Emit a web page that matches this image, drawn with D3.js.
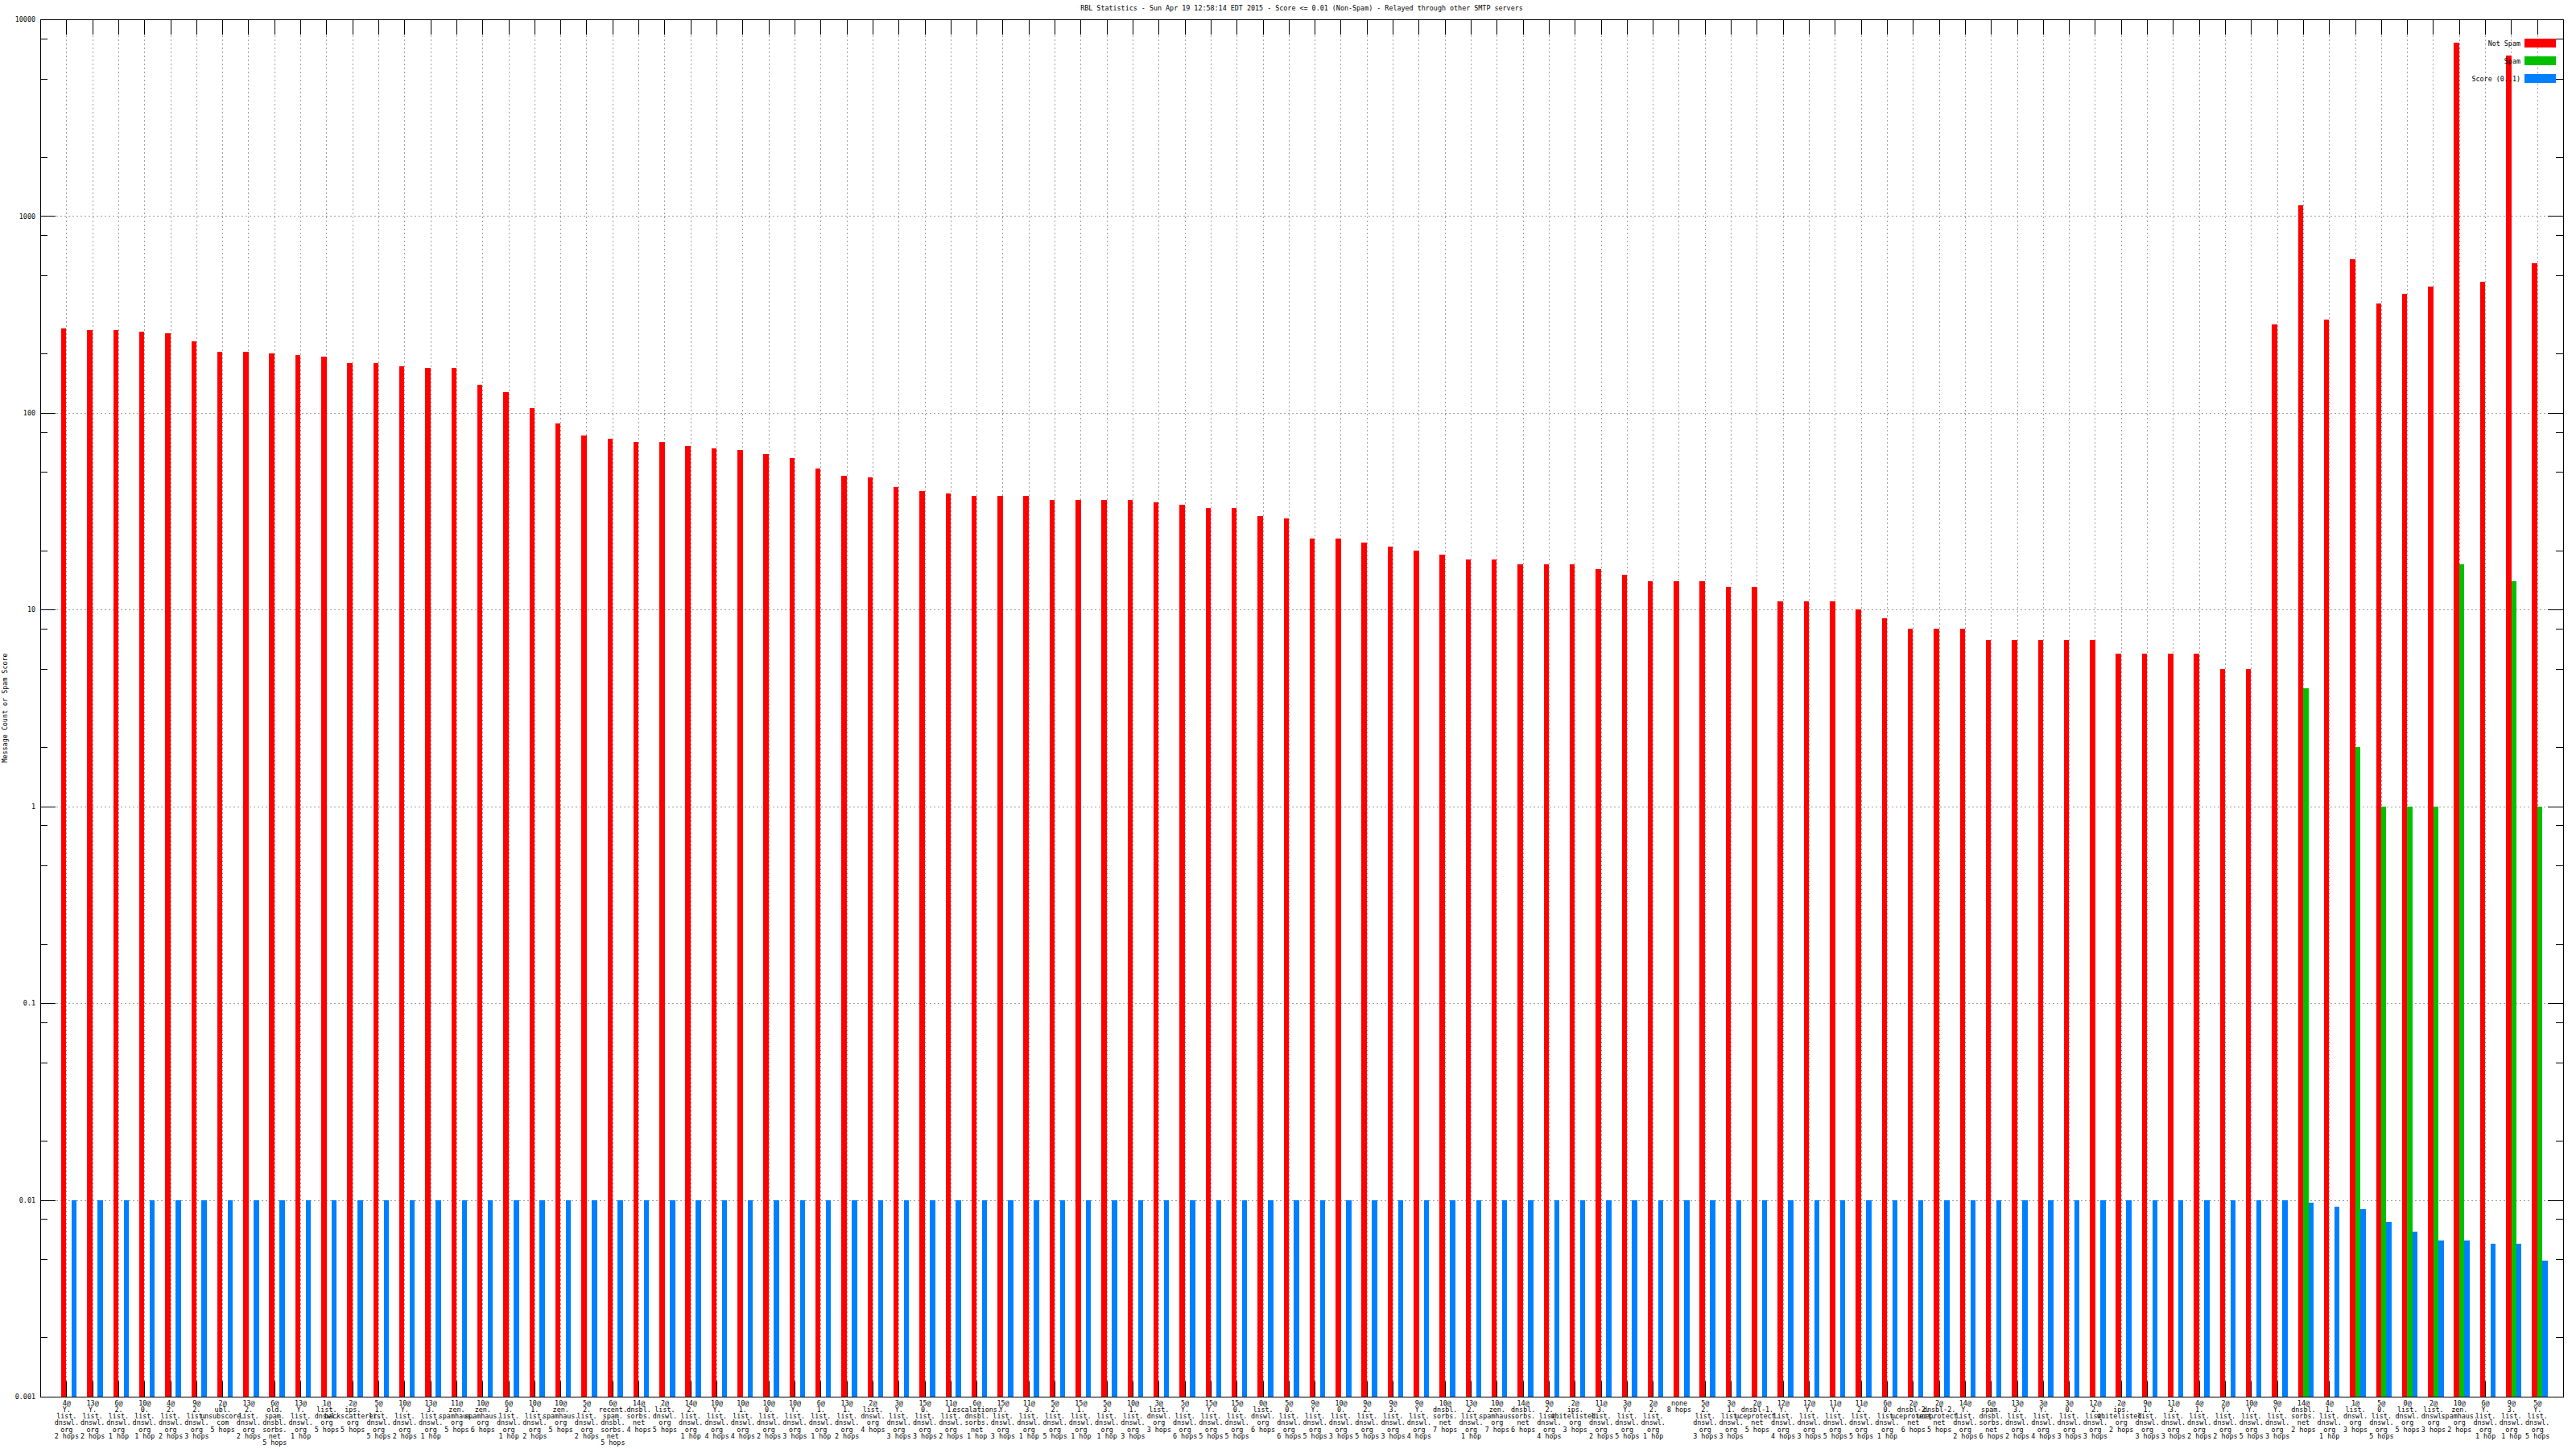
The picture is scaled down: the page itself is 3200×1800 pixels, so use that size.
<!DOCTYPE html>
<html><head><meta charset="utf-8">
<script src="https://cdn.jsdelivr.net/npm/d3@7"></script>
<style>body{margin:0;background:#fff}</style>
</head><body><svg id="c" width="3200" height="1800"></svg>
<script>
const categories = [
"4@Y.list.dnswl.org 2 hops","13@Y.list.dnswl.org 2 hops","6@2.list.dnswl.org 1 hop","10@0.list.dnswl.org 1 hop",
"4@2.list.dnswl.org 2 hops","9@2.list.dnswl.org 3 hops","2@ubl.unsubscore.com 5 hops","13@2.list.dnswl.org 2 hops",
"6@old.spam.dnsbl.sorbs.net 5 hops","13@Y.list.dnswl.org 1 hop","1@list.dnswl.org 5 hops","2@ips.backscatterer.org 5 hops",
"5@1.list.dnswl.org 5 hops","10@Y.list.dnswl.org 2 hops","13@3.list.dnswl.org 1 hop","11@zen.spamhaus.org 5 hops",
"10@zen.spamhaus.org 6 hops","6@3.list.dnswl.org 1 hop","10@1.list.dnswl.org 2 hops","10@zen.spamhaus.org 5 hops",
"5@2.list.dnswl.org 2 hops","6@recent.spam.dnsbl.sorbs.net 5 hops","14@dnsbl.sorbs.net 4 hops","2@list.dnswl.org 5 hops",
"14@2.list.dnswl.org 1 hop","10@Y.list.dnswl.org 4 hops","10@1.list.dnswl.org 4 hops","10@0.list.dnswl.org 2 hops",
"10@Y.list.dnswl.org 3 hops","6@1.list.dnswl.org 1 hop","13@1.list.dnswl.org 2 hops","2@list.dnswl.org 4 hops",
"3@Y.list.dnswl.org 3 hops","15@0.list.dnswl.org 3 hops","11@1.list.dnswl.org 2 hops","6@escalations.dnsbl.sorbs.net 1 hop",
"15@Y.list.dnswl.org 3 hops","11@3.list.dnswl.org 1 hop","5@2.list.dnswl.org 5 hops","15@1.list.dnswl.org 1 hop",
"5@3.list.dnswl.org 1 hop","10@1.list.dnswl.org 3 hops","3@list.dnswl.org 3 hops","5@Y.list.dnswl.org 6 hops",
"15@Y.list.dnswl.org 5 hops","15@0.list.dnswl.org 5 hops","0@list.dnswl.org 6 hops","5@0.list.dnswl.org 6 hops",
"9@Y.list.dnswl.org 5 hops","10@0.list.dnswl.org 3 hops","9@2.list.dnswl.org 5 hops","9@3.list.dnswl.org 3 hops",
"9@Y.list.dnswl.org 4 hops","10@dnsbl.sorbs.net 7 hops","13@2.list.dnswl.org 1 hop","10@zen.spamhaus.org 7 hops",
"14@dnsbl.sorbs.net 6 hops","9@2.list.dnswl.org 4 hops","2@ips.whitelisted.org 3 hops","11@3.list.dnswl.org 2 hops",
"3@Y.list.dnswl.org 5 hops","2@2.list.dnswl.org 1 hop","none 8 hops","5@2.list.dnswl.org 3 hops",
"3@1.list.dnswl.org 3 hops","2@dnsbl-1.uceprotect.net 5 hops","12@Y.list.dnswl.org 4 hops","12@Y.list.dnswl.org 3 hops",
"11@Y.list.dnswl.org 5 hops","11@2.list.dnswl.org 5 hops","6@0.list.dnswl.org 1 hop","2@dnsbl-2.uceprotect.net 6 hops",
"2@dnsbl-2.uceprotect.net 5 hops","14@Y.list.dnswl.org 2 hops","6@spam.dnsbl.sorbs.net 6 hops","13@3.list.dnswl.org 2 hops",
"3@Y.list.dnswl.org 4 hops","3@0.list.dnswl.org 3 hops","12@2.list.dnswl.org 3 hops","2@ips.whitelisted.org 2 hops",
"9@1.list.dnswl.org 3 hops","11@3.list.dnswl.org 3 hops","4@1.list.dnswl.org 2 hops","2@Y.list.dnswl.org 2 hops",
"10@Y.list.dnswl.org 5 hops","9@Y.list.dnswl.org 3 hops","14@dnsbl.sorbs.net 2 hops","4@1.list.dnswl.org 1 hop",
"1@list.dnswl.org 3 hops","5@0.list.dnswl.org 5 hops","0@list.dnswl.org 5 hops","2@list.dnswl.org 3 hops",
"10@zen.spamhaus.org 2 hops","6@Y.list.dnswl.org 1 hop","9@3.list.dnswl.org 1 hop","5@Y.list.dnswl.org 5 hops"
];
const notSpam = [
268,263,263,258,253,230,205,205,201,197,193,179,179,172,169,169,
139,127,106,88,77,74,71,71,68,66,65,62,59,52,48,47,
42,40,39,38,38,38,36,36,36,36,35,34,33,33,30,29,
23,23,22,21,20,19,18,18,17,17,17,16,15,14,14,14,
13,13,11,11,11,10,9,8,8,8,7,7,7,7,7,6,
6,6,6,5,5,281,1135,298,604,360,403,438,7610,464,6545,575
];
const spam = [
0,0,0,0,0,0,0,0,0,0,0,0,0,0,0,0,
0,0,0,0,0,0,0,0,0,0,0,0,0,0,0,0,
0,0,0,0,0,0,0,0,0,0,0,0,0,0,0,0,
0,0,0,0,0,0,0,0,0,0,0,0,0,0,0,0,
0,0,0,0,0,0,0,0,0,0,0,0,0,0,0,0,
0,0,0,0,0,0,4,0,2,1,1,1,17,0,14,1
];
const score = [
0.01,0.01,0.01,0.01,0.01,0.01,0.01,0.01,0.01,0.01,0.01,0.01,0.01,0.01,0.01,0.01,
0.01,0.01,0.01,0.01,0.01,0.01,0.01,0.01,0.01,0.01,0.01,0.01,0.01,0.01,0.01,0.01,
0.01,0.01,0.01,0.01,0.01,0.01,0.01,0.01,0.01,0.01,0.01,0.01,0.01,0.01,0.01,0.01,
0.01,0.01,0.01,0.01,0.01,0.01,0.01,0.01,0.01,0.01,0.01,0.01,0.01,0.01,0.01,0.01,
0.01,0.01,0.01,0.01,0.01,0.01,0.01,0.01,0.01,0.01,0.01,0.01,0.01,0.01,0.01,0.01,
0.01,0.01,0.01,0.01,0.01,0.01,0.0097,0.0092,0.009,0.0077,0.0069,0.0062,0.0062,0.006,0.006,0.0049
];
const yMajorTicks = [0.001,0.01,0.1,1,10,100,1000,10000];
const yMajorLabels = ["0.001","0.01","0.1","1","10","100","1000","10000"];
const yMinorTicks = [0.002,0.005,0.008,0.02,0.05,0.08,0.2,0.5,0.8,2,5,8,20,50,80,200,500,800,2000,5000,8000];
const seriesNames = ["Not Spam","Spam","Score (0..1)"];
const seriesColors = ["#ff0000","#00c000","#0080ff"];
const chartTitle = "RBL Statistics - Sun Apr 19 12:58:14 EDT 2015 - Score <= 0.01 (Non-Spam) - Relayed through other SMTP servers";
const yTitle = "Message Count or Spam Score";

const W = 3200, H = 1800, L = 50, R = 3184, T = 24, B = 1735;
const FONT = "'DejaVu Sans Mono', 'Liberation Mono', monospace";
const FS = 8.4;
const svg = d3.select('#c');
svg.append('rect').attr('width', W).attr('height', H).attr('fill', '#fff');

const n = categories.length;
const idx = d3.range(n);
const x = d3.scaleLinear().domain([-1, n]).range([L, R]);
const y = d3.scaleLog().domain([0.001, 10000]).range([B, T]);

// grid
const grid = svg.append('g').attr('stroke', '#a0a0a0').attr('stroke-width', 1).attr('stroke-dasharray', '2,3').attr('shape-rendering', 'crispEdges');
grid.selectAll('line.v').data(idx).join('line').attr('class', 'v')
  .attr('x1', d => Math.round(x(d)) + 0.5).attr('x2', d => Math.round(x(d)) + 0.5)
  .attr('y1', T).attr('y2', B);
grid.selectAll('line.h').data(yMajorTicks.slice(1, -1)).join('line').attr('class', 'h')
  .attr('x1', L).attr('x2', R)
  .attr('y1', d => Math.round(y(d)) + 0.5).attr('y2', d => Math.round(y(d)) + 0.5);

function styleAxis(g) {
  g.select('.domain').remove();
  g.selectAll('.tick line').attr('stroke', '#000').attr('shape-rendering', 'crispEdges');
  g.selectAll('.tick text').attr('fill', '#000').attr('font-family', FONT).attr('font-size', FS);
}

// y axes
svg.append('g').attr('transform', `translate(${L},0)`)
  .call(d3.axisLeft(y).tickValues(yMajorTicks).tickFormat((d, i) => yMajorLabels[i]).tickSize(-19).tickPadding(6))
  .call(styleAxis);
svg.append('g').attr('transform', `translate(${L},0)`)
  .call(d3.axisLeft(y).tickValues(yMinorTicks).tickFormat('').tickSize(-9))
  .call(styleAxis);
svg.append('g').attr('transform', `translate(${R},0)`)
  .call(d3.axisRight(y).tickValues(yMajorTicks).tickFormat('').tickSize(-19))
  .call(styleAxis);
svg.append('g').attr('transform', `translate(${R},0)`)
  .call(d3.axisRight(y).tickValues(yMinorTicks).tickFormat('').tickSize(-9))
  .call(styleAxis);

// x axes
svg.append('g').attr('transform', `translate(0,${T})`)
  .call(d3.axisTop(x).tickValues(idx).tickFormat('').tickSize(-19))
  .call(styleAxis);
const xb = svg.append('g').attr('transform', `translate(0,${B})`)
  .call(d3.axisBottom(x).tickValues(idx).tickFormat(d => categories[d]).tickSize(-19).tickPadding(5))
  .call(styleAxis);
function splitLabel(s) {
  return s.replace(/@/g, '@\n').replace(/\./g, '.\n').replace(/ (\d+ hops?)$/, '\n$1').split('\n');
}
xb.selectAll('.tick text').each(function (d) {
  const t = d3.select(this);
  const lines = splitLabel(categories[d]);
  t.text(null);
  lines.forEach((ln, k) => {
    t.append('tspan').attr('x', 0).attr('dy', k === 0 ? '0.71em' : 8.17).text(ln);
  });
}).attr('dy', null);

// bars
const series = [notSpam, spam, score];
const bw = 0.2, off0 = -0.195;
series.forEach((vals, s) => {
  svg.append('g').attr('fill', seriesColors[s]).attr('shape-rendering', 'crispEdges')
    .selectAll('rect').data(idx.filter(i => vals[i] > 0)).join('rect')
    .attr('x', i => x(i + off0 + s * bw))
    .attr('width', i => x(i + off0 + (s + 1) * bw) - x(i + off0 + s * bw))
    .attr('y', i => y(vals[i]))
    .attr('height', i => B - y(vals[i]));
});

// border
svg.append('rect').attr('x', L + 0.5).attr('y', T + 0.5).attr('width', R - L).attr('height', B - T)
  .attr('fill', 'none').attr('stroke', '#000').attr('stroke-width', 1).attr('shape-rendering', 'crispEdges');

// legend
const lg = svg.append('g');
seriesNames.forEach((name, s) => {
  const yc = 53.5 + s * 22;
  lg.append('rect').attr('x', 3136).attr('y', yc - 5.5).attr('width', 39).attr('height', 11).attr('fill', seriesColors[s]);
  lg.append('text').attr('x', 3131).attr('y', yc + 3).attr('text-anchor', 'end')
    .attr('font-family', FONT).attr('font-size', FS).attr('fill', '#000').text(name);
});

// titles
svg.append('text').attr('x', (L + R) / 2).attr('y', 13).attr('text-anchor', 'middle')
  .attr('font-family', FONT).attr('font-size', FS).attr('fill', '#000').text(chartTitle);
svg.append('text').attr('transform', `translate(9,${(T + B) / 2}) rotate(-90)`).attr('text-anchor', 'middle')
  .attr('font-family', FONT).attr('font-size', FS).attr('fill', '#000').text(yTitle);
</script>
</body></html>
